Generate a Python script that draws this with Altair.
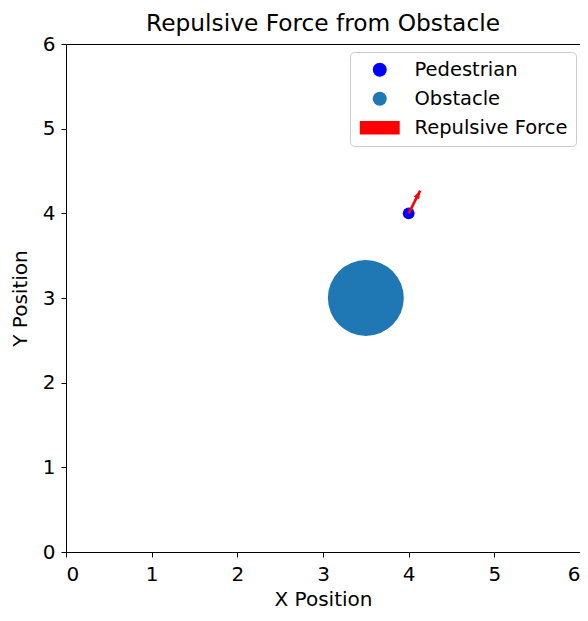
import math
import altair as alt
import pandas as pd

# ---- data ----
series_names = ["Pedestrian", "Obstacle", "Repulsive Force"]
series_colors = ["#0000ff", "#1f77b4", "#ff0000"]

point_series = ["Obstacle", "Pedestrian"]
point_x = [3.5, 4.0]
point_y = [3.0, 4.0]

force_x = [4.0]
force_y = [4.0]
force_dx = [0.134]
force_dy = [0.268]

tick_values = [0, 1, 2, 3, 4, 5, 6]

# ---- styling ----
W = 514
H = 508
px_per_unit = W / 6.0
obstacle_radius = 0.5
point_area = [math.pi * (obstacle_radius * px_per_unit) ** 2, 140]

pts = pd.DataFrame({"x": point_x, "y": point_y, "series": point_series, "area": point_area})
arrow = pd.DataFrame({
    "x": force_x,
    "y": force_y,
    "x2": [a + b for a, b in zip(force_x, force_dx)],
    "y2": [a + b for a, b in zip(force_y, force_dy)],
    "angle": [math.degrees(math.atan2(dx * W, dy * H)) for dx, dy in zip(force_dx, force_dy)],
})

FONT = "DejaVu Sans"
xs = alt.Scale(domain=[0, 6], nice=False, zero=False)
ys = alt.Scale(domain=[0, 6], nice=False, zero=False)
x_axis = alt.Axis(title="X Position", values=tick_values, format="d", labelPadding=7, titlePadding=5)
y_axis = alt.Axis(title="Y Position", values=tick_values, format="d", labelPadding=6, titlePadding=12)

rect_path = "M-2.85,-0.95L2.85,-0.95L2.85,0.95L-2.85,0.95Z"
legend = alt.Legend(orient="none", legendX=284, legendY=8)

points = alt.Chart(pts).mark_point(filled=True, opacity=1, strokeWidth=0).encode(
    x=alt.X("x:Q", scale=xs, axis=x_axis),
    y=alt.Y("y:Q", scale=ys, axis=y_axis),
    color=alt.Color("series:N", scale=alt.Scale(domain=series_names, range=series_colors), title=None,
                    legend=legend),
    shape=alt.Shape("series:N", scale=alt.Scale(domain=series_names, range=["circle", "circle", rect_path]),
                    title=None, legend=legend),
    size=alt.Size("area:Q", scale=None, legend=None),
)

shaft = alt.Chart(arrow).mark_rule(color="#ff0000", strokeWidth=2.6).encode(
    x=alt.X("x:Q", scale=xs),
    y=alt.Y("y:Q", scale=ys),
    x2="x2:Q",
    y2="y2:Q",
)

head = alt.Chart(arrow).mark_point(
    shape="M0,0L0.85,2.3L-0.85,2.3Z", filled=True, color="#ff0000", opacity=1, strokeWidth=0, size=49
).encode(
    x=alt.X("x2:Q", scale=xs),
    y=alt.Y("y2:Q", scale=ys),
    angle=alt.Angle("angle:Q", scale=None),
)

chart = alt.layer(points, shaft, head).properties(
    width=W,
    height=H,
    title=alt.TitleParams("Repulsive Force from Obstacle", font=FONT, fontSize=23.3, fontWeight="normal",
                          color="#000000", offset=-2),
    autosize=alt.AutoSizeParams(type="none"),
    padding={"left": 58, "top": 36, "right": 0, "bottom": 61},
).configure_view(
    stroke="#000000", strokeWidth=1
).configure_axis(
    grid=False,
    domainColor="#000000",
    tickColor="#000000",
    tickSize=5,
    labelColor="#000000",
    titleColor="#000000",
    labelFont=FONT,
    titleFont=FONT,
    labelFontSize=20,
    titleFontSize=20,
    titleFontWeight="normal",
).configure_legend(
    padding=8,
    strokeColor="#cccccc",
    fillColor="#ffffff",
    cornerRadius=4,
    labelFont=FONT,
    labelFontSize=19.5,
    labelColor="#000000",
    symbolSize=196,
    symbolStrokeWidth=0,
    symbolOffset=12,
    rowPadding=8,
    labelOffset=25,
)

chart.save("out.html", embed_options={"renderer": "svg", "actions": False})
